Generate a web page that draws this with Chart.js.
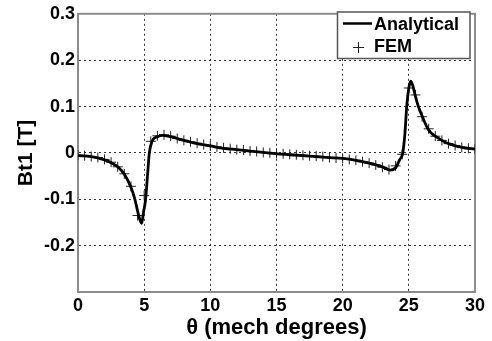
<!DOCTYPE html>
<html>
<head>
<meta charset="utf-8">
<script src="https://cdn.jsdelivr.net/npm/chart.js@4/dist/chart.umd.min.js"></script>
<style>
  html, body { margin: 0; padding: 0; background: #fff; }
  #wrap { width: 492px; height: 341px; position: relative; }
</style>
</head>
<body>
<div id="wrap"><canvas id="c"></canvas></div>
<script>
// ---- data ----
const analyticalTheta = [0, 1, 2, 2.5, 3, 3.5, 4, 4.3, 4.5, 4.7, 4.81, 4.95, 5.11, 5.25, 5.39, 5.6, 6.0, 6.4, 7, 8, 9, 10, 11, 12, 13, 14, 15, 16, 17, 18, 19, 20, 21, 22, 23, 23.6, 24.0, 24.3, 24.54, 24.7, 24.84, 25.0, 25.14, 25.3, 25.5, 25.72, 26.0, 26.48, 27, 27.5, 28, 29, 30];
const analyticalB = [-0.006, -0.008, -0.015, -0.021, -0.030, -0.046, -0.074, -0.100, -0.125, -0.146, -0.152, -0.128, -0.100, -0.050, 0.000, 0.025, 0.035, 0.038, 0.035, 0.027, 0.020, 0.015, 0.010, 0.007, 0.004, 0.001, -0.002, -0.004, -0.006, -0.008, -0.010, -0.012, -0.016, -0.022, -0.030, -0.037, -0.032, -0.015, 0.000, 0.040, 0.100, 0.140, 0.155, 0.145, 0.122, 0.100, 0.080, 0.050, 0.036, 0.027, 0.020, 0.012, 0.008];

const femTheta = [0, 0.5, 1, 1.5, 2, 2.5, 3, 3.5, 4, 4.5, 5, 5.5, 6, 6.5, 7, 7.5, 8, 8.5, 9, 9.5, 10, 10.5, 11, 11.5, 12, 12.5, 13, 13.5, 14, 14.5, 15, 15.5, 16, 16.5, 17, 17.5, 18, 18.5, 19, 19.5, 20, 20.5, 21, 21.5, 22, 22.5, 23, 23.5, 24, 24.5, 25, 25.5, 26, 26.5, 27, 27.5, 28, 28.5, 29, 29.5, 30];
const femB = [-0.005, -0.006, -0.008, -0.010, -0.014, -0.020, -0.030, -0.045, -0.072, -0.135, -0.092, 0.025, 0.037, 0.039, 0.036, 0.031, 0.027, 0.024, 0.021, 0.018, 0.015, 0.013, 0.011, 0.009, 0.007, 0.006, 0.004, 0.003, 0.001, 0.000, -0.001, -0.002, -0.003, -0.004, -0.005, -0.006, -0.007, -0.008, -0.010, -0.011, -0.012, -0.014, -0.016, -0.019, -0.022, -0.026, -0.031, -0.036, -0.028, -0.003, 0.140, 0.125, 0.078, 0.052, 0.036, 0.027, 0.020, 0.016, 0.012, 0.010, 0.008];

const seriesNames = ['Analytical', 'FEM'];
const xTickValues = [0, 5, 10, 15, 20, 25, 30];
const yTickValues = [-0.2, -0.1, 0, 0.1, 0.2, 0.3];
const xTitle = 'θ (mech degrees)';
const yTitle = 'Bt1 [T]';

// ---- build chart ----
const FONT = "'Liberation Sans', Arial, sans-serif";
const toPts = (xs, ys) => xs.map((x, i) => ({ x: x, y: ys[i] }));

const boxPlugin = {
  id: 'boxPlugin',
  beforeDatasetsDraw(chart) {
    const { ctx, chartArea: a } = chart;
    ctx.save();
    ctx.strokeStyle = '#8c8c8c';
    ctx.lineWidth = 2;
    ctx.strokeRect(a.left, a.top, a.right - a.left, a.bottom - a.top);
    ctx.restore();
  },
  afterDraw(chart) {
    const { ctx } = chart;
    const ds = chart.data.datasets;
    const bx = 337.5, by = 12, bw = 132.5, bh = 46.5;
    ctx.save();
    ctx.fillStyle = '#fff';
    ctx.fillRect(bx, by, bw, bh);
    ctx.strokeStyle = '#555';
    ctx.lineWidth = 1.5;
    ctx.strokeRect(bx, by, bw, bh);
    // Analytical line sample
    ctx.strokeStyle = '#000';
    ctx.lineWidth = 2.5;
    ctx.beginPath();
    ctx.moveTo(343, 23.5);
    ctx.lineTo(372, 23.5);
    ctx.stroke();
    // FEM cross sample
    ctx.strokeStyle = '#222';
    ctx.lineWidth = 1;
    ctx.beginPath();
    ctx.moveTo(353, 47.5); ctx.lineTo(364, 47.5);
    ctx.moveTo(358.5, 42); ctx.lineTo(358.5, 53);
    ctx.stroke();
    ctx.fillStyle = '#000';
    ctx.font = 'bold 18px ' + FONT;
    ctx.textBaseline = 'middle';
    ctx.textAlign = 'left';
    ctx.fillText(ds[0].label, 374, 25);
    ctx.fillText(ds[1].label, 374, 47.5);
    ctx.restore();
  }
};

new Chart(document.getElementById('c'), {
  type: 'scatter',
  data: {
    datasets: [
      {
        label: seriesNames[0],
        data: toPts(analyticalTheta, analyticalB),
        showLine: true,
        borderColor: '#000',
        borderWidth: 2.8,
        pointRadius: 0,
        cubicInterpolationMode: 'monotone',
        order: 1
      },
      {
        label: seriesNames[1],
        data: toPts(femTheta, femB),
        showLine: false,
        pointStyle: 'cross',
        pointRadius: 5,
        pointBorderWidth: 1,
        borderColor: '#222',
        backgroundColor: '#222',
        order: 2
      }
    ]
  },
  options: {
    responsive: true,
    maintainAspectRatio: false,
    animation: false,
    layout: { padding: { top: 5, right: 17, left: 0, bottom: 0 } },
    plugins: { legend: { display: false }, tooltip: { enabled: false } },
    scales: {
      x: {
        type: 'linear',
        min: 0, max: 30,
        afterBuildTicks: (s) => { s.ticks = xTickValues.map(v => ({ value: v })); },
        afterFit: (s) => { s.height = 49; },
        ticks: {
          color: '#000',
          padding: 3,
          maxRotation: 0,
          font: { family: FONT, size: 18, weight: 'bold' },
          callback: (v) => String(v)
        },
        grid: {
          color: '#333',
          lineWidth: 1,
          drawTicks: false
        },
        border: { display: true, color: '#8c8c8c', width: 2, dash: [2, 3] },
        title: {
          display: true,
          text: xTitle,
          color: '#000',
          padding: { top: 0, bottom: 0 },
          font: { family: FONT, size: 22, weight: 'bold' }
        }
      },
      y: {
        type: 'linear',
        min: -0.3, max: 0.3,
        afterBuildTicks: (s) => { s.ticks = [-0.3].concat(yTickValues).map(v => ({ value: v })); },
        afterFit: (s) => { s.width = 78; },
        ticks: {
          color: '#000',
          padding: 3,
          font: { family: FONT, size: 18, weight: 'bold' },
          callback: (v) => {
            const r = Math.round(v * 10) / 10;
            if (r <= -0.3) return '';
            return r === 0 ? '0' : r.toFixed(1);
          }
        },
        grid: {
          color: '#333',
          lineWidth: 1,
          drawTicks: false
        },
        border: { display: true, color: '#8c8c8c', width: 2, dash: [2, 3] },
        title: {
          display: true,
          text: yTitle,
          color: '#000',
          padding: { top: 14, bottom: 0 },
          font: { family: FONT, size: 21, weight: 'bold' }
        }
      }
    }
  },
  plugins: [boxPlugin]
});
</script>
</body>
</html>
